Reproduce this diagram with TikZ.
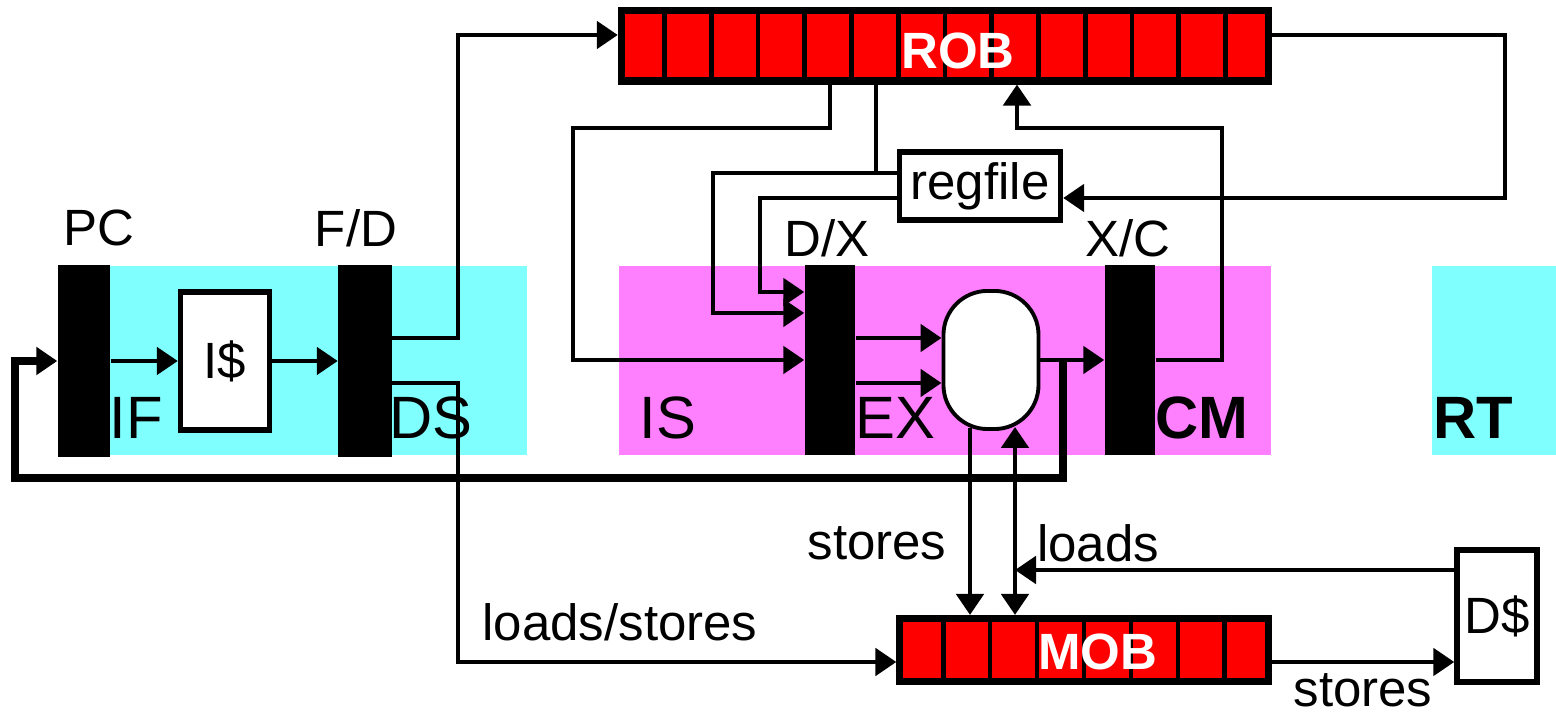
\documentclass[tikz,border=0pt]{standalone}
\usepackage{fontspec}
\setmainfont{Liberation Sans}
\usetikzlibrary{arrows.meta, positioning, calc}
\definecolor{stagecyan}{RGB}{128, 255, 255}
\definecolor{stagepink}{RGB}{255, 128, 255}
\definecolor{bufred}{RGB}{255, 0, 0}
\tikzset{
  wire/.style={line width=1.4pt},
  arr/.style={wire, -{Triangle[length=0.21cm, width=0.27cm]}},
  latch/.style={fill=black, minimum width=0.5cm, minimum height=1.9cm, inner sep=0pt},
  unit/.style={draw, fill=white, line width=1.5pt, inner sep=0pt, font=\fontsize{14.5}{16}\selectfont},
  buffer/.style={draw, fill=bufred, line width=2pt, inner sep=0pt},
  cellline/.style={line width=1.3pt},
  buflabel/.style={text=white, inner sep=0pt, font=\fontsize{14.5}{16}\selectfont\bfseries},
  lbl/.style={inner sep=0pt, font=\fontsize{14.5}{16}\selectfont},
  stage/.style={inner sep=0pt, font=\fontsize{17}{19}\selectfont},
  stagebold/.style={inner sep=0pt, font=\fontsize{17}{19}\selectfont\bfseries},
}

\begin{document}
\begin{tikzpicture}[x=0.01cm, y=-0.01cm]
    \useasboundingbox (0,0) rectangle (1556,716);
    \fill[stagecyan] (60,266) rectangle (527,455);
    \fill[stagepink] (619,266) rectangle (1271,455);
    \fill[stagecyan] (1432,266) rectangle (1556,455);

    \node[stage] (iflbl) at (136,418) {IF};
    \node[stage] (dslbl) at (431,418) {DS};
    \node[stage] (islbl) at (668,418) {IS};
    \node[stage] (exlbl) at (895,418) {EX};
    \node[stagebold] (cmlbl) at (1202,418) {CM};
    \node[stagebold] (rtlbl) at (1473,418) {RT};

    \node[latch, minimum width=0.52cm, minimum height=1.92cm] (pc) at (84,361) {};
    \node[latch, minimum width=0.53cm, minimum height=1.92cm] (fd) at (365,361) {};
    \node[latch] (dx) at (830,360) {};
    \node[latch] (xc) at (1130,360) {};
    \node[lbl] (pclbl) at (99,228) {PC};
    \node[lbl] (fdlbl) at (356,228) {F/D};
    \node[lbl] (dxlbl) at (827,238) {D/X};
    \node[lbl] (xclbl) at (1128,238) {X/C};

    \node[unit, minimum width=0.89cm, minimum height=1.38cm] (icache) at (225,361) {I\$};
    \node[unit, minimum width=1.61cm, minimum height=0.68cm] (regfile) at (980,186) {regfile};
    \node[unit, minimum width=0.80cm, minimum height=1.32cm] (dcache) at (1497,616) {D\$};
    \node[unit, line width=1.1pt, rounded corners=0.44cm, minimum width=0.95cm, minimum height=1.38cm] (alu) at (991,360) {};

    \node[buffer, minimum width=6.47cm, minimum height=0.7cm] (rob) at (945,46) {};
    \foreach \i in {1,...,13}
        \draw[cellline] ($(rob.north west)!\i/14!(rob.north east)$) -- ($(rob.south west)!\i/14!(rob.south east)$);
    \node[buflabel] (roblbl) at ($(rob.center)+(13,5)$) {ROB};

    \node[buffer, minimum width=3.68cm, minimum height=0.63cm] (mob) at (1084,650) {};
    \foreach \i in {1,...,7}
        \draw[cellline] ($(mob.north west)!\i/8!(mob.north east)$) -- ($(mob.south west)!\i/8!(mob.south east)$);
    \node[buflabel] (moblbl) at ($(mob.center)+(14,2)$) {MOB};

    \coordinate (brpt) at (1063,360);
    \coordinate (robin) at (1017,128);
    \coordinate (rfjoin) at (876,173);
    \coordinate (sttap) at (970,0);
    \coordinate (ldtap) at (1015,0);
    \coordinate (ldjoin) at (1015,570);
    \coordinate (mobout) at ($(mob.east)+(0,12)$);

    \draw[arr] (pc.east) -- (icache.west);
    \draw[arr] (icache.east) -- (fd.west);
    \draw[arr] ($(fd.east)+(0,-23)$) -| (458,35) -- ($(rob.west)+(0,-11)$);
    \draw[arr] ($(fd.east)+(0,22)$) -| (458,662) -- ($(mob.west)+(0,12)$);
    \draw[arr] ($(dx.east)+(0,-22)$) -- ($(alu.west)+(0,-22)$);
    \draw[arr] ($(dx.east)+(0,23)$) -- ($(alu.west)+(0,23)$);
    \draw[arr] (alu.east) -- (xc.west);
    \draw[arr, line width=2pt] (brpt) |- (15,478) |- (pc.west);
    \draw[arr] (xc.east) -| (1222,128) -| (rob.south -| robin);
    \draw[arr] ($(rob.east)+(0,-11)$) -| (1505,198) -- ($(regfile.east)+(0,12)$);
    \draw[arr] (rob.south -| dx) |- (573,128) |- (dx.west);
    \draw[wire] (rob.south -| rfjoin) -- (rfjoin);
    \draw[arr] ($(regfile.west)+(0,-13)$) -| (713,313) -- ($(dx.west)+(0,-47)$);
    \draw[arr] ($(regfile.west)+(0,12)$) -| (760,292) -- ($(dx.west)+(0,-68)$);
    \draw[arr] ($(alu.south -| sttap)+(0,-3)$) -- (mob.north -| sttap);
    \draw[wire, {Triangle[length=0.21cm, width=0.27cm]}-{Triangle[length=0.21cm, width=0.27cm]}] (mob.north -| ldtap) -- ($(alu.south -| ldtap)+(0,-4)$);
    \draw[arr] (dcache.west |- ldjoin) -- (ldjoin);
    \draw[arr] (mobout) -- (mobout -| dcache.west);

    \node[lbl] (stlbl) at (877,543) {stores};
    \node[lbl] (ldlbl) at (1098,543) {loads};
    \node[lbl] (lslbl) at (620,622) {loads/stores};
    \node[lbl] (st2lbl) at (1363,690) {stores};
\end{tikzpicture}
\end{document}
